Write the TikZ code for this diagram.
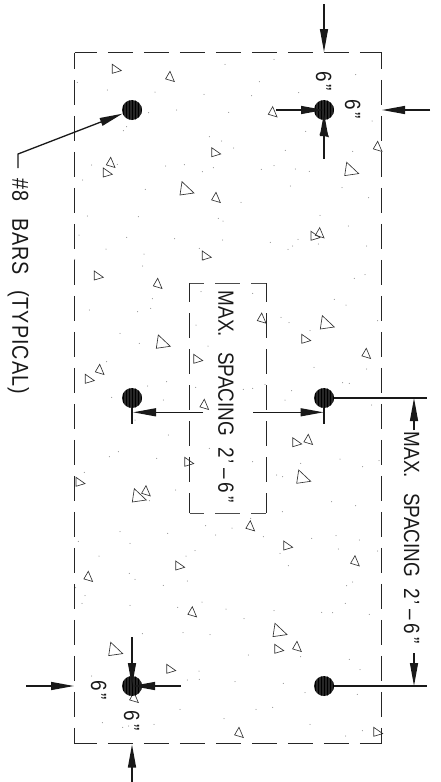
\documentclass[tikz,border=0pt]{standalone}
\usepackage{fontspec}
\setmainfont[FakeStretch=.86]{Liberation Sans}
\usepackage{tikz}
\usetikzlibrary{patterns,arrows.meta,calc}
\newcommand{\maxspacing}{MAX.\hspace{15pt}SPACING\hspace{12pt}2\hspace{.8pt}’\hspace{5pt}–\hspace{4pt}6\hspace{3pt}”}
\newcommand{\sixinch}{6\hspace{3pt}”}
\tikzset{
  rebar/.style={circle,minimum size=20pt,inner sep=0pt,preaction={fill=black!85},pattern=vertical lines,pattern color=black},
  dimline/.style={line width=1.3pt,black!90},
  dimarrow/.style={dimline,-{Triangle[length=23pt,width=8pt]}},
  edgeh/.style={line width=1pt,black!85,dash pattern=on 24.7pt off 11.3pt,dash phase=2.7pt},
  edgev/.style={line width=1pt,black!85,dash pattern=on 24.7pt off 11.3pt,dash phase=8.7pt},
  boxh/.style={line width=1pt,black!70,dash pattern=on 24.7pt off 11.3pt,dash phase=10.4pt},
  boxv/.style={line width=1pt,black!85,dash pattern=on 24.7pt off 11.3pt,dash phase=5.7pt},
  aggregate/.style={line width=.65pt,black!80},
  speck/.style={black!55},
  cadtext/.style={font=\fontsize{22}{24}\selectfont,rotate=-90,anchor=base west,inner sep=0pt,black!90},
  cadnote/.style={cadtext,font=\fontsize{23}{25}\selectfont\addfontfeature{LetterSpace=4.5}}
}

\begin{document}
\begin{tikzpicture}[x=1pt,y=-1pt]
\useasboundingbox (0,0) rectangle (441,782);
\foreach \x/\y in {112.3/64.3,211.7/147.7,103.3/168,311/231.3,202.3/251,94.3/271,301.7/334.3,193.7/354.3,85.3/374.3,292.7/437.7,184.7/457.3,76/477.3,283.7/541,175.7/561,274.7/644.3,166.7/664.3,373.7/727.3}
  \draw[aggregate] (\x,\y) -- ++(9,6.3) -- ++(-9,2.7) -- cycle;
\foreach \x/\y in {170/71.3,272.7/106.7,324.3/126.7,377.7/141.3,110.7/157.3,216/192.3,319.7/227.7,157.7/278.3,261.7/313,366.3/348.3,99.7/364.3,204.3/399.3,308.3/434.3,146/485.7,250.3/520.7,355/555.7,88.3/571.3,192.3/606.7,297/641.3,134/692.3,239/727.3}
  \draw[aggregate] (\x,\y) -- ++(4.3,10.2) -- ++(-8.7,-2.6) -- cycle;
\foreach \x/\y in {182/181.7,346.7/162.3,322.3/315.7,158.3/335,298.7/470,134.3/488.7,275/623.3,110.7/642.3}
  \draw[aggregate] (\x,\y) -- ++(12,11.3) -- ++(-14,2) -- cycle;

\foreach \x/\y in {675/193,822/178,1067/224,778/245,612/283,755/287,896/278,232/247,322/270,465/276,530/330,686/337,446/338,1116/363,370/392,380/380,628/410,665/423,917/394,701/444,856/451,1058/454,275/495,352/493,497/498,553/494,607/515,640/503,784/508,822/497,886/507,928/514,248/540,436/568,871/558,1026/563,1106/593,723/607,262/648,415/650,655/655,669/663,960/646,1045/678,237/705,380/712,524/716,668/720,811/727,894/718,878/738,864/748,1100/738,318/747,432/762,598/745,224/778,955/732}
  \fill[speck] ({\x/3},{\y/3}) circle (.5);
\foreach \x/\y in {428/18,610/0,1095/44,1063/55,1003/118,1038/135,457/116,452/145,413/155,268/150,603/95,758/100,843/172,867/188,1133/182,360/220,418/250,588/195,624/258,320/305,942/322,1100/327,930/212,443/378,500/365,587/382,730/388,758/385,795/373,1028/368,1048/370,875/392,335/412,490/420,855/420,1115/435,405/480,505/525,355/575,328/590,470/595,628/565,758/605,902/610,1020/597,1088/620,1137/602,830/645,848/650,253/637,527/690,995/725,1067/737,847/755,448/722,752/775}
  \fill[speck] ({\x/3},{260+\y/3}) circle (.5);
\foreach \x/\y in {360/35,503/40,617/17,647/45,696/24,790/50,935/55,1008/47,1078/60,235/64,390/70,585/92,558/108,297/108,1015/87,1133/93,840/100,865/137,388/160,405/178,562/183,490/196,1058/186,1040/197,227/203,255/227,246/250,390/256,1036/250,533/262,606/246,678/267,822/272,965/277,998/278,1108/283,732/296,427/341,549/338,630/344,745/405,902/410,1048/418,1080/449,275/468,597/453,562/480,598/478,705/485,850/490,915/518,1072/523,540/568,768/568,818/562,672/596,307/608,368/622,386/618,462/613,930/613,1037/648,1087/632}
  \fill[speck] ({\x/3},{520+\y/3}) circle (.5);

\coordinate (slabNW) at (74.5,52.5);
\coordinate (slabNE) at (381.5,52.5);
\coordinate (slabSW) at (74.5,743.5);
\coordinate (slabSE) at (381.5,743.5);
\draw[edgeh] (slabNW) -- (slabNE);
\draw[edgeh] (slabSW) -- (slabSE);
\draw[edgev] (slabNW) -- (slabSW);
\draw[edgev] (slabNE) -- (slabSE);
\coordinate (boxNW) at (189.5,283);
\coordinate (boxNE) at (266,283);
\coordinate (boxSW) at (189.5,513.3);
\coordinate (boxSE) at (266,513.3);
\draw[boxh] (boxNW) -- (boxNE);
\draw[boxh] (boxSW) -- (boxSE);
\draw[boxv] (boxNW) -- (boxSW);
\draw[boxv] (boxNE) -- (boxSE);

\coordinate (topS) at (324,4);
\coordinate (topE) at (324,52);
\coordinate (rightS) at (430,110);
\coordinate (rightE) at (382,110);
\coordinate (nearL) at (276,110);
\coordinate (nearB) at (324,158.7);
\coordinate (ldrEnd) at (18,168);
\coordinate (ldrKnee) at (18,154);
\coordinate (tickL) at (132,424.3);
\coordinate (tickR) at (324,424.3);
\coordinate (midL) at (203,412.3);
\coordinate (midLE) at (133,412.3);
\coordinate (midR) at (253,412.3);
\coordinate (midRE) at (323.5,412.3);
\coordinate (witA) at (427,398);
\coordinate (witB) at (427,686);
\coordinate (dimAS) at (414,430);
\coordinate (dimAE) at (414,398);
\coordinate (dimBS) at (414,653);
\coordinate (dimBE) at (414,686);
\coordinate (leftS) at (26,686);
\coordinate (leftE) at (74,686);
\coordinate (nearR) at (180.7,686);
\coordinate (nearT) at (132,637.3);
\coordinate (botS) at (132,782);
\coordinate (botE) at (132,744.5);

\draw[dimarrow] (topS) -- (topE);
\draw[dimarrow] (rightS) -- (rightE);
\draw[dimarrow] (leftS) -- (leftE);
\draw[dimarrow] (botS) -- (botE);
\draw[dimarrow] (midL) -- (midLE);
\draw[dimarrow] (midR) -- (midRE);
\draw[dimarrow] (dimAS) -- (dimAE);
\draw[dimarrow] (dimBS) -- (dimBE);

\node[rebar] (barTL) at (132,110) {};
\node[rebar] (barTR) at (324,110) {};
\node[rebar] (barML) at (132,398) {};
\node[rebar] (barMR) at (324,398) {};
\node[rebar] (barBL) at (132,686) {};
\node[rebar] (barBR) at (324,686) {};

\draw[dimarrow] (nearL) -- (barTR.center);
\draw[dimarrow] (nearB) -- ($(barTR.center)+(0,3)$);
\draw[dimarrow] (nearR) -- (barBL.center);
\draw[dimarrow] (nearT) -- (barBL.center);
\draw[dimarrow] (ldrEnd) -- (ldrKnee) -- (barTL);
\draw[dimline] (barML.south) -- (tickL);
\draw[dimline] (barMR.south) -- (tickR);
\draw[dimline] (barMR.east) -- (witA);
\draw[dimline] (barBR.east) -- (witB);

\node[cadnote] (lblBars) at (12.3,178) {\#8\hspace{17pt}BARS\hspace{15pt}(TYPICAL)};
\node[cadtext] (lblMid) at (218.3,290.7) {\maxspacing};
\node[cadtext] (lblRight) at (404,431.7) {\maxspacing};
\node[cadtext] (lblTRa) at (316,71) {\sixinch};
\node[cadtext] (lblTRb) at (345,99) {\sixinch};
\node[cadtext] (lblBLa) at (91,680) {\sixinch};
\node[cadtext] (lblBLb) at (124,710.7) {\sixinch};
\end{tikzpicture}
\end{document}
